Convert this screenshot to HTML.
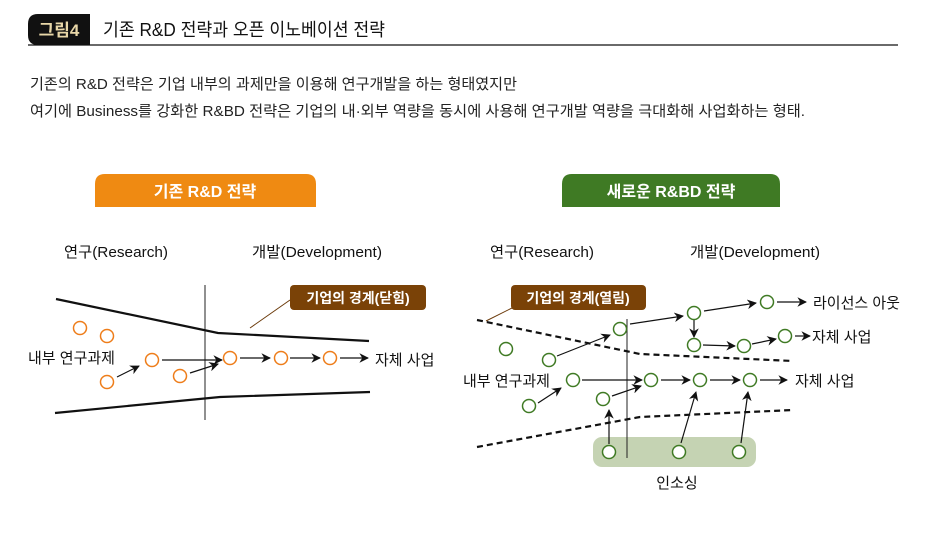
<!DOCTYPE html>
<html><head><meta charset="utf-8"><style>
body{margin:0;background:#fff;width:931px;height:545px;overflow:hidden}
svg{display:block}
text{font-family:"Liberation Sans","Noto Sans CJK KR",sans-serif}
</style></head><body>
<svg width="931" height="545" viewBox="0 0 931 545">
<defs>
<marker id="ah" viewBox="0 0 10 10" refX="9" refY="5" markerWidth="8" markerHeight="8" orient="auto"><path d="M0,0 L10,5 L0,10 L3,5z" fill="#111"/></marker>
</defs>
<g>
<path d="M38,14 H90 V45 H38 Q28,45 28,35 V24 Q28,14 38,14z" fill="#111"/>
<text x="59" y="36" font-size="17" font-weight="bold" fill="#e8d7a8" text-anchor="middle">그림4</text>
<text x="103" y="36" font-size="18" fill="#111" textLength="282" lengthAdjust="spacingAndGlyphs">기존 R&amp;D 전략과 오픈 이노베이션 전략</text>
<line x1="28" y1="45" x2="898" y2="45" stroke="#111" stroke-width="1.3"/>
</g>
<text x="30" y="89" font-size="15" fill="#222" textLength="487" lengthAdjust="spacingAndGlyphs">기존의 R&amp;D 전략은 기업 내부의 과제만을 이용해 연구개발을 하는 형태였지만</text>
<text x="30" y="116" font-size="15" fill="#222" textLength="775" lengthAdjust="spacingAndGlyphs">여기에 Business를 강화한 R&amp;BD 전략은 기업의 내·외부 역량을 동시에 사용해 연구개발 역량을 극대화해 사업화하는 형태.</text>

<g>
<path d="M95,207 V184 Q95,174 105,174 H306 Q316,174 316,184 V207z" fill="#ef8a12"/>
<text x="205" y="197" font-size="16" font-weight="bold" fill="#fff" text-anchor="middle">기존 R&amp;D 전략</text>
<text x="64" y="257" font-size="15" fill="#111" textLength="104" lengthAdjust="spacingAndGlyphs">연구(Research)</text>
<text x="252" y="257" font-size="15" fill="#111" textLength="130" lengthAdjust="spacingAndGlyphs">개발(Development)</text>
<line x1="205" y1="285" x2="205" y2="420" stroke="#222" stroke-width="1"/>
<polyline points="56,299 218,333 369,341" fill="none" stroke="#111" stroke-width="2.2"/>
<polyline points="55,413 220,397 370,392" fill="none" stroke="#111" stroke-width="2.2"/>
<line x1="250" y1="328" x2="290" y2="300" stroke="#6b3a0a" stroke-width="1"/>
<rect x="290" y="285" width="136" height="25" rx="4" fill="#7a4207"/>
<text x="358" y="303" font-size="14" font-weight="bold" fill="#fff" text-anchor="middle">기업의 경계(닫힘)</text>
<text x="28" y="363" font-size="15" fill="#111">내부 연구과제</text>
<text x="375" y="365" font-size="15" fill="#111">자체 사업</text>
<g fill="none" stroke="#111" stroke-width="1.2" marker-end="url(#ah)">
<line x1="162" y1="360" x2="222" y2="360"/>
<line x1="117" y1="377" x2="139" y2="366"/>
<line x1="190" y1="373" x2="218" y2="364"/>
<line x1="240" y1="358" x2="270" y2="358"/>
<line x1="290" y1="358" x2="320" y2="358"/>
<line x1="340" y1="358" x2="368" y2="358"/>
</g>
<g fill="#fff" stroke="#ee7d1a" stroke-width="1.5">
<circle cx="80" cy="328" r="6.5"/><circle cx="107" cy="336" r="6.5"/><circle cx="107" cy="382" r="6.5"/>
<circle cx="152" cy="360" r="6.5"/><circle cx="180" cy="376" r="6.5"/><circle cx="230" cy="358" r="6.5"/>
<circle cx="281" cy="358" r="6.5"/><circle cx="330" cy="358" r="6.5"/>
</g>
</g>

<g>
<path d="M562,207 V184 Q562,174 572,174 H770 Q780,174 780,184 V207z" fill="#3f7a24"/>
<text x="671" y="197" font-size="16" font-weight="bold" fill="#fff" text-anchor="middle">새로운 R&amp;BD 전략</text>
<text x="490" y="257" font-size="15" fill="#111" textLength="104" lengthAdjust="spacingAndGlyphs">연구(Research)</text>
<text x="690" y="257" font-size="15" fill="#111" textLength="130" lengthAdjust="spacingAndGlyphs">개발(Development)</text>
<rect x="593" y="437" width="163" height="30" rx="9" fill="#c5d3b3"/>
<line x1="627" y1="319" x2="627" y2="458" stroke="#222" stroke-width="1"/>
<polyline points="477,320 640,354 793,361" fill="none" stroke="#111" stroke-width="2.2" stroke-dasharray="6,4"/>
<polyline points="477,447 640,417 793,410" fill="none" stroke="#111" stroke-width="2.2" stroke-dasharray="6,4"/>
<line x1="486" y1="321" x2="512" y2="308" stroke="#6b3a0a" stroke-width="1"/>
<rect x="511" y="285" width="135" height="25" rx="4" fill="#7a4207"/>
<text x="578" y="303" font-size="14" font-weight="bold" fill="#fff" text-anchor="middle">기업의 경계(열림)</text>
<text x="813" y="308" font-size="15" fill="#111">라이선스 아웃</text>
<text x="812" y="342" font-size="15" fill="#111">자체 사업</text>
<text x="795" y="386" font-size="15" fill="#111">자체 사업</text>
<text x="463" y="386" font-size="15" fill="#111">내부 연구과제</text>
<text x="677" y="488" font-size="15" fill="#111" text-anchor="middle">인소싱</text>
<g fill="none" stroke="#111" stroke-width="1.2" marker-end="url(#ah)">
<line x1="538" y1="403" x2="561" y2="388"/>
<line x1="557" y1="356" x2="610" y2="335"/>
<line x1="630" y1="324" x2="683" y2="316"/>
<line x1="704" y1="311" x2="756" y2="303"/>
<line x1="694" y1="320" x2="694" y2="337"/>
<line x1="703" y1="345" x2="735" y2="346"/>
<line x1="752" y1="344" x2="776" y2="339"/>
<line x1="582" y1="380" x2="642" y2="380"/>
<line x1="612" y1="396" x2="641" y2="386"/>
<line x1="661" y1="380" x2="690" y2="380"/>
<line x1="710" y1="380" x2="740" y2="380"/>
<line x1="760" y1="380" x2="787" y2="380"/>
<line x1="777" y1="302" x2="806" y2="302"/>
<line x1="795" y1="336" x2="810" y2="336"/>
<line x1="609" y1="444" x2="609" y2="410"/>
<line x1="681" y1="443" x2="696" y2="392"/>
<line x1="741" y1="443" x2="748" y2="392"/>
</g>
<g fill="#fff" stroke="#3f7a24" stroke-width="1.5">
<circle cx="506" cy="349" r="6.5"/><circle cx="549" cy="360" r="6.5"/><circle cx="573" cy="380" r="6.5"/>
<circle cx="529" cy="406" r="6.5"/><circle cx="603" cy="399" r="6.5"/><circle cx="620" cy="329" r="6.5"/>
<circle cx="694" cy="313" r="6.5"/><circle cx="767" cy="302" r="6.5"/><circle cx="694" cy="345" r="6.5"/>
<circle cx="744" cy="346" r="6.5"/><circle cx="785" cy="336" r="6.5"/><circle cx="651" cy="380" r="6.5"/>
<circle cx="700" cy="380" r="6.5"/><circle cx="750" cy="380" r="6.5"/><circle cx="609" cy="452" r="6.5"/>
<circle cx="679" cy="452" r="6.5"/><circle cx="739" cy="452" r="6.5"/>
</g>
</g>
</svg>
</body></html>
